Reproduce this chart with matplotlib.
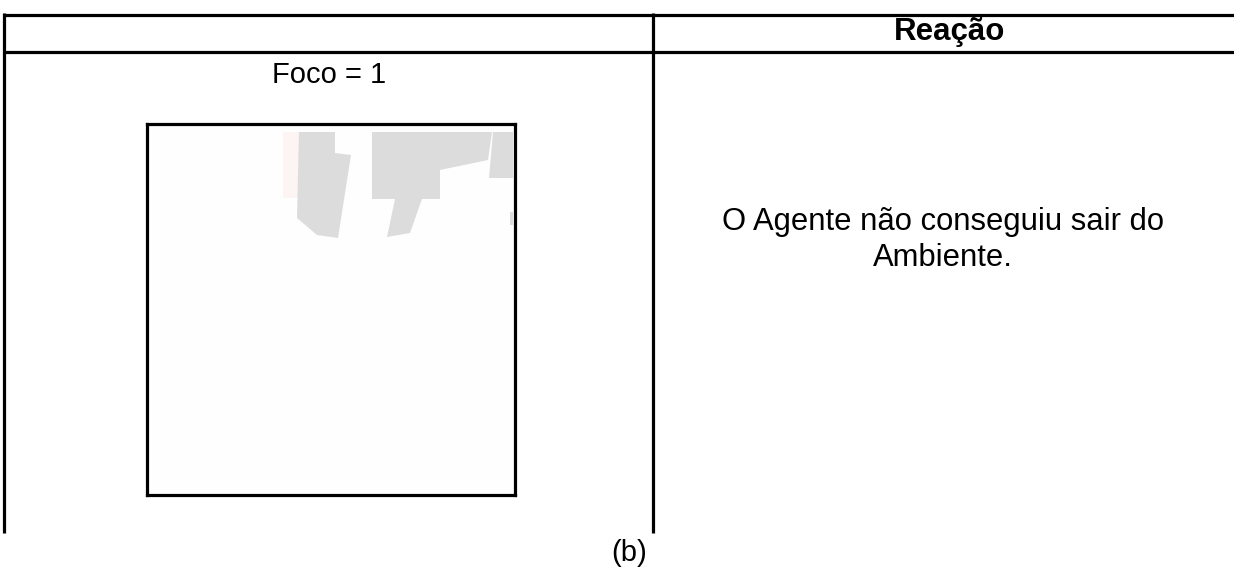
import matplotlib
matplotlib.use("Agg")
import matplotlib.pyplot as plt
from matplotlib.patches import Polygon

plt.rcParams['font.family'] = ['Liberation Sans', 'DejaVu Sans']

# ---- content ----
header_right = "Reação"
left_label = "Foco = 1"
right_lines = ["O Agente não conseguiu sair do", "Ambiente."]
caption = "(b)"

# thumbnail shapes (pixel coords inside the thumbnail, origin top-left)
pink_strip = [(136, 8), (152, 8), (152, 74), (136, 74)]
gray_shape1 = [(152, 8), (188, 8), (188, 29), (204, 31), (191, 114), (170, 111), (150, 94)]
gray_shape2 = [(225, 8), (345, 8), (341, 36), (293, 46), (293, 75), (275, 75),
               (263, 109), (240, 113), (248, 75), (225, 75)]
gray_shape3 = [(346, 8), (366, 8), (366, 54), (342, 54)]
gray_bit = [(363, 88), (366, 88), (366, 101), (363, 101)]
thumb_w, thumb_h = 368, 371

W, H = 1234, 569
fig = plt.figure(figsize=(W / 100, H / 100), dpi=100)
ax = fig.add_axes([0, 0, 1, 1])
ax.set_xlim(0, W)
ax.set_ylim(H, 0)
ax.axis('off')

lw = 2.3
# table lines
ax.plot([3, W], [14.5, 14.5], color='black', lw=lw, solid_capstyle='butt')
ax.plot([3, W], [52, 52], color='black', lw=lw, solid_capstyle='butt')
ax.plot([4, 4], [13, 533], color='black', lw=lw, solid_capstyle='butt')
ax.plot([653, 653], [13, 533], color='black', lw=lw, solid_capstyle='butt')

ax.text(950, 40, header_right, ha='center', va='baseline', fontsize=22.5, fontweight='bold')
ax.text(329.5, 83, left_label, ha='center', va='baseline', fontsize=21)
ax.text(943, 230, right_lines[0], ha='center', va='baseline', fontsize=22.3)
ax.text(943, 266, right_lines[1], ha='center', va='baseline', fontsize=22.3)
ax.text(629.5, 553, caption, ha='center', va='center', fontsize=21)

# thumbnail
x0, y0 = 147, 124
iax = fig.add_axes([x0 / W, 1 - (y0 + thumb_h) / H, thumb_w / W, thumb_h / H])
iax.set_xlim(0, thumb_w)
iax.set_ylim(thumb_h, 0)
iax.set_facecolor('#fefefe')
iax.set_xticks([])
iax.set_yticks([])
for s in iax.spines.values():
    s.set_linewidth(lw)
    s.set_color('black')
iax.add_patch(Polygon(pink_strip, closed=True, facecolor='#fdf4f4', edgecolor='none'))
for shp in (gray_shape1, gray_shape2, gray_shape3, gray_bit):
    iax.add_patch(Polygon(shp, closed=True, facecolor='#dcdcdc', edgecolor='none'))

fig.savefig('out.png', dpi=100, facecolor='white')
